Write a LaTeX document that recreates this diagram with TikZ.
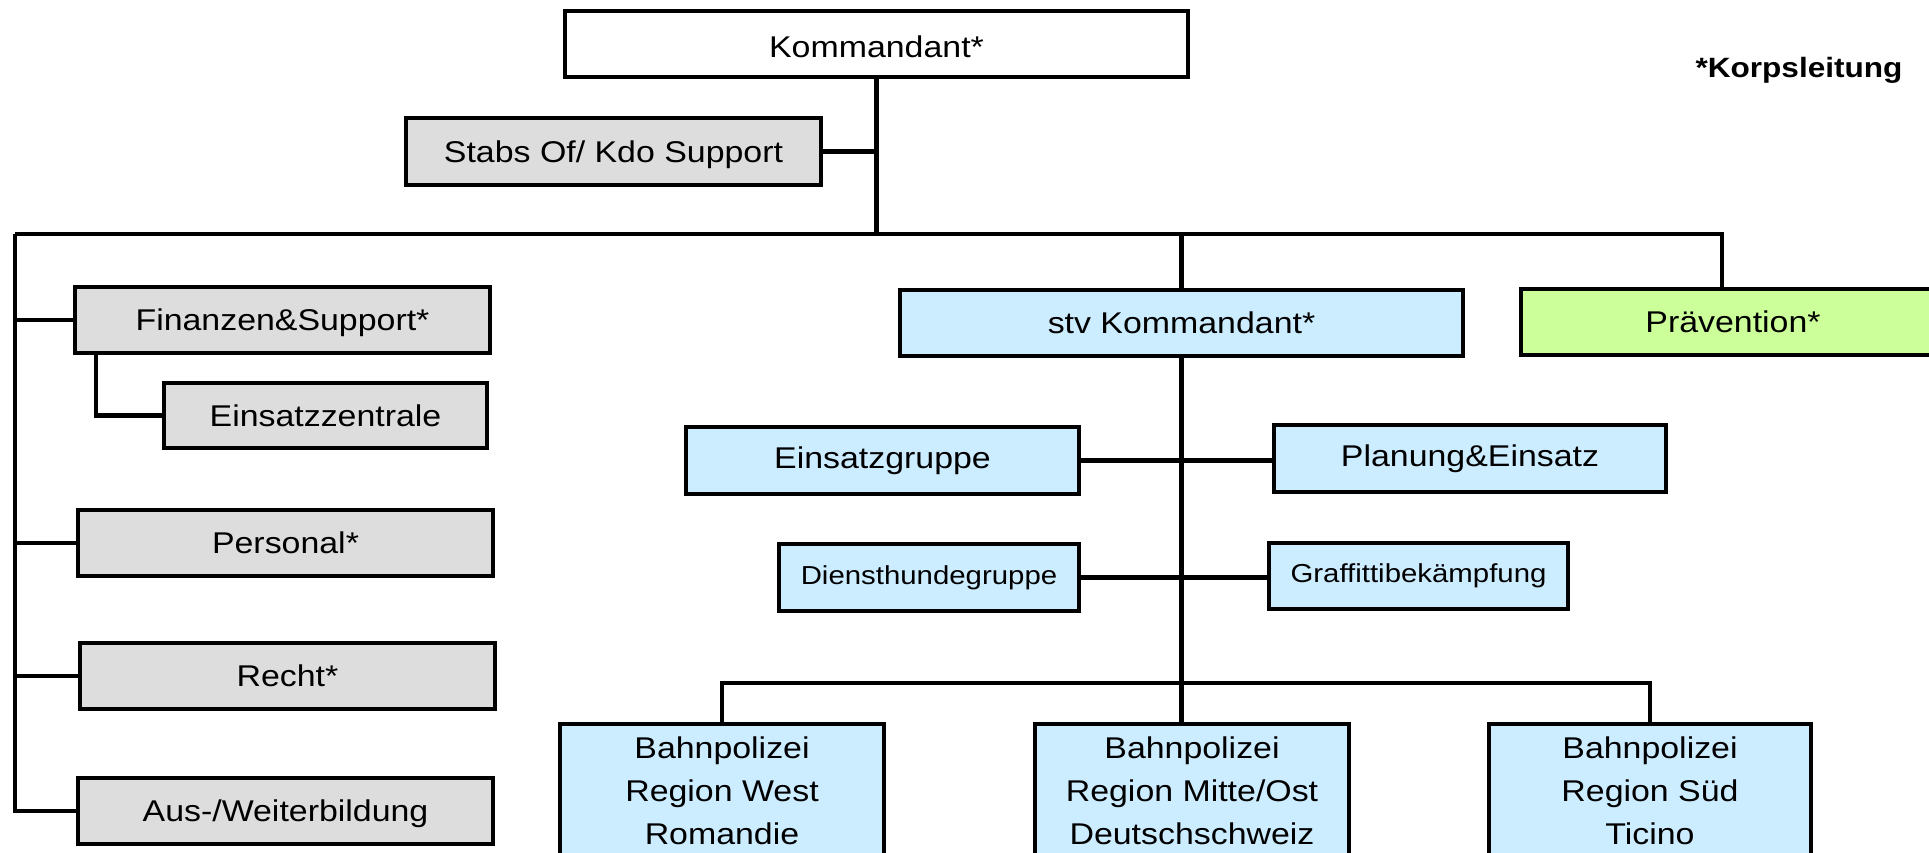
\documentclass[tikz,border=0pt]{standalone}
\usepackage{fontspec}
\setmainfont{Liberation Sans}[FakeStretch=1.13]
\usepackage{tikz}
\usetikzlibrary{calc,positioning}
\definecolor{myGreyFill}{RGB}{221,221,221}
\definecolor{myBlueFill}{RGB}{204,236,255}
\definecolor{myGreenFill}{RGB}{204,255,153}
\tikzset{
myBox/.style={
	rectangle,draw=black,line width=2.6pt,
	inner sep=0pt,align=center,text=black,
	font=\fontsize{17.07}{24.4}\selectfont
}
, myWhite/.style={myBox,fill=white}
, myGrey/.style={myBox,fill=myGreyFill}
, myBlue/.style={myBox,fill=myBlueFill}
, myGreen/.style={myBox,fill=myGreenFill}
, mySmall/.style={font=\fontsize{14.8}{18}\selectfont}
% text a bit lower in the box
, myLow/.style={text depth=0pt}
% link
, myLink/.style={draw=black,line width=2.4pt}
}

\begin{document}
\begin{tikzpicture}[x=0.02cm,y=-0.02cm]
	\useasboundingbox (0,0) rectangle (1929,852);
	% nodes
	\node[myWhite,text height=0.55cm,minimum width=12.46cm,minimum height=1.32cm] (Kdt) at (876.5,44) {Kommandant*};
	\node[myGrey,myLow,minimum width=8.3cm,minimum height=1.34cm] (Stabs) at (613.5,151.5) {Stabs Of/ Kdo Support};
	\node[font=\bfseries\fontsize{15.9}{18}\selectfont] (Korps) at (1799,70) {*Korpsleitung};
	% left column
	\node[myGrey,myLow,minimum width=8.3cm,minimum height=1.32cm] (Fin) at (282.5,320) {Finanzen\&Support*};
	\node[myGrey,minimum width=6.46cm,minimum height=1.3cm] (EZ) at (325.5,415.5) {Einsatzzentrale};
	\node[myGrey,minimum width=8.3cm,minimum height=1.32cm] (Pers) at (285.5,543) {Personal*};
	\node[myGrey,minimum width=8.3cm,minimum height=1.32cm] (Recht) at (287.5,676) {Recht*};
	\node[myGrey,myLow,minimum width=8.3cm,minimum height=1.32cm] (Aus) at (285.5,811) {Aus-/Weiterbildung};
	% stv
	\node[myBlue,minimum width=11.26cm,minimum height=1.32cm] (Stv) at (1181.5,323) {stv Kommandant*};
	\node[myGreen,minimum width=8.48cm,minimum height=1.32cm] (Prae) at (1733,322) {Prävention*};
	\node[myBlue,minimum width=7.86cm,minimum height=1.34cm] (EG) at (882.5,460.5) {Einsatzgruppe};
	\node[myBlue,minimum width=7.84cm,minimum height=1.34cm] (Plan) at (1470,458.5) {Planung\&Einsatz};
	\node[myBlue,mySmall,minimum width=6cm,minimum height=1.34cm] (DH) at (929,577.5) {Diensthundegruppe};
	\node[myBlue,mySmall,minimum width=5.98cm,minimum height=1.32cm] (Graf) at (1418.5,576) {Graffittibekämpfung};
	% regions
	\node[myBlue,minimum width=6.48cm,minimum height=2.68cm] (West) at (722,791) {Bahnpolizei\\Region West\\Romandie};
	\node[myBlue,minimum width=6.28cm,minimum height=2.68cm] (Mitte) at (1192,791) {Bahnpolizei\\Region Mitte/Ost\\Deutschschweiz};
	\node[myBlue,minimum width=6.44cm,minimum height=2.68cm] (Sued) at (1650,791) {Bahnpolizei\\Region Süd\\Ticino};

	% bus points
	\coordinate (BusL) at (15,234);
	\coordinate (BusR) at (1722,234);
	\coordinate (BusB) at (1183,683);

	% links
	\draw [myLink] (Kdt.south) -- (Kdt.south |- BusL);
	\draw [myLink] (Stabs.east) -- (Stabs.east -| Kdt.south);
	\draw [myLink] (BusL) -- (BusR) -- (BusR |- Prae.north);
	\draw [myLink] (BusL) -- (BusL |- Aus.west) -- (Aus.west);
	\draw [myLink] (Fin.west -| BusL) -- (Fin.west);
	\draw [myLink] (Pers.west -| BusL) -- (Pers.west);
	\draw [myLink] (Recht.west -| BusL) -- (Recht.west);
	\draw [myLink] ([xshift=0.46cm]Fin.south west) |- (EZ.west);
	\draw [myLink] (Stv.north) -- (Stv.north |- BusL);
	\draw [myLink] (Stv.south) -- (Stv.south |- Mitte.north);
	\draw [myLink] (EG.east) -- (EG.east -| Plan.west);
	\draw [myLink] (DH.east) -- (DH.east -| Graf.west);
	\draw [myLink] (West.north) |- (BusB) -| (Sued.north);
\end{tikzpicture}
\end{document}
